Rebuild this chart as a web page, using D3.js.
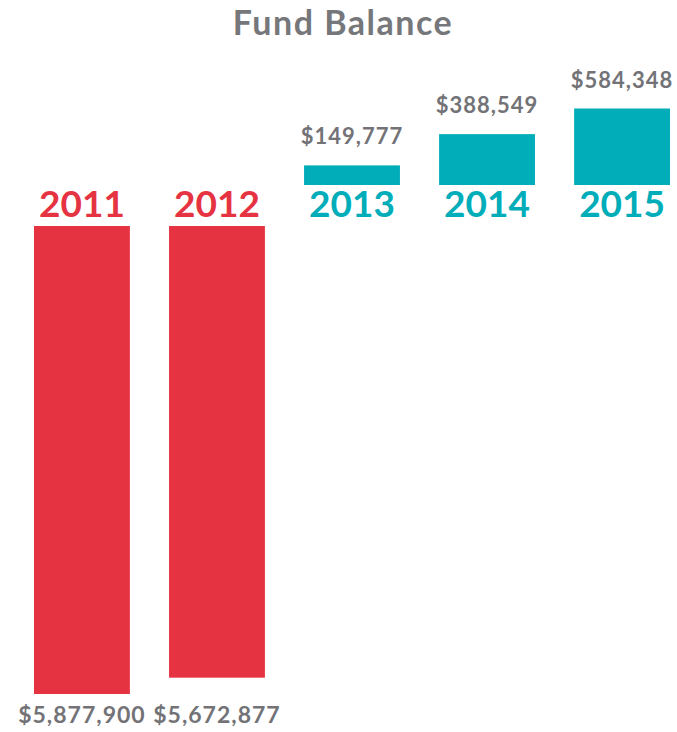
<!DOCTYPE html>
<html>
<head>
<meta charset="utf-8">
<script src="https://cdn.jsdelivr.net/npm/d3@7"></script>
<style>
  html, body { margin: 0; padding: 0; background: #fff; }
  svg { display: block; font-family: Lato, "Open Sans", sans-serif; }
</style>
</head>
<body>
<svg id="chart" width="677" height="732"></svg>
<script>
const years = ["2011", "2012", "2013", "2014", "2015"];
const balances = [-5877900, -5672877, 149777, 388549, 584348];
const valueLabels = ["$5,877,900", "$5,672,877", "$149,777", "$388,549", "$584,348"];
const title = "Fund Balance";

const RED = "#e63342", TEAL = "#00adb9", GREY = "#737377";

const data = years.map((y, i) => ({ year: y, value: balances[i], label: valueLabels[i] }));
const svg = d3.select("#chart");

const x = d3.scaleBand().domain(years).range([7, 697]).paddingInner(0.29).paddingOuter(0.2);

// positive bars rise from the zero line; deficits hang below the year labels
const yPos = d3.scaleLinear().domain([0, 584348]).range([185, 108.5]);
const yNeg = d3.scaleLinear().domain([0, 5877900]).range([226, 694]);

svg.append("text")
  .attr("x", 343).attr("y", 35)
  .attr("text-anchor", "middle")
  .attr("font-size", 34).attr("font-weight", 700)
  .attr("letter-spacing", 1.5)
  .attr("fill", "#76777a")
  .text(title);

const pos = data.filter(d => d.value >= 0);
const neg = data.filter(d => d.value < 0);

svg.selectAll("rect.pos").data(pos).join("rect")
  .attr("class", "pos")
  .attr("x", d => x(d.year)).attr("width", x.bandwidth())
  .attr("y", d => yPos(d.value)).attr("height", d => yPos(0) - yPos(d.value))
  .attr("fill", TEAL);

svg.selectAll("rect.neg").data(neg).join("rect")
  .attr("class", "neg")
  .attr("x", d => x(d.year)).attr("width", x.bandwidth())
  .attr("y", yNeg(0)).attr("height", d => yNeg(-d.value) - yNeg(0))
  .attr("fill", RED);

svg.selectAll("text.year").data(data).join("text")
  .attr("class", "year")
  .attr("x", d => x(d.year) + x.bandwidth() / 2).attr("y", 217)
  .attr("text-anchor", "middle")
  .attr("font-size", 37).attr("font-weight", 700)
  .attr("fill", d => d.value < 0 ? RED : TEAL)
  .text(d => d.year);

svg.selectAll("text.val").data(data).join("text")
  .attr("class", "val")
  .attr("x", d => x(d.year) + x.bandwidth() / 2)
  .attr("y", d => d.value >= 0 ? yPos(d.value) - 21 : 723)
  .attr("text-anchor", "middle")
  .attr("font-size", d => d.value >= 0 ? 22 : 23).attr("font-weight", 700)
  .attr("letter-spacing", 1)
  .attr("fill", GREY)
  .text(d => d.label);
</script>
</body>
</html>
